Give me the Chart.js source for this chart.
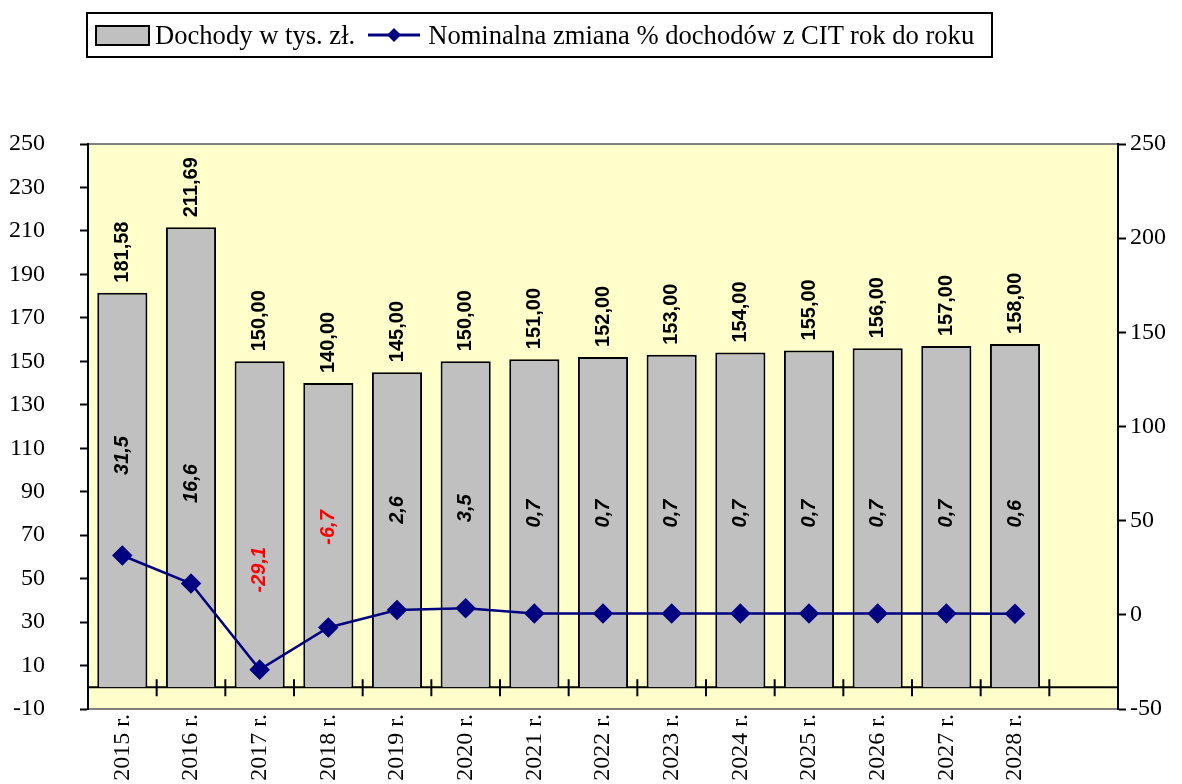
<!DOCTYPE html>
<html>
<head>
<meta charset="utf-8">
<script src="https://cdn.jsdelivr.net/npm/chart.js@4.4.0/dist/chart.umd.min.js"></script>
<style>
  html, body { margin:0; padding:0; background:#fff; }
  #wrap { position:relative; width:1182px; height:784px; }
  #legenda { position:absolute; left:86px; top:12px; width:907px; height:46px; border:2px solid #000; box-sizing:border-box;
    font-family:"Liberation Serif", serif; font-size:26.6px; color:#000; display:flex; align-items:center; white-space:nowrap; }
  .sw { display:inline-block; width:51px; height:17px; background:#c0c0c0; border:2px solid #000; margin-left:7px; margin-right:5px; }
  .ln { display:inline-block; width:52px; height:20px; margin-left:13px; margin-right:8px; }
</style>
</head>
<body>
<div id="wrap">
  <canvas id="wykres" width="1182" height="784"></canvas>
  <div id="legenda">
    <span class="sw"></span><span>Dochody w tys. zł.</span>
    <svg class="ln" viewBox="0 0 52 20"><line x1="0" y1="10" x2="52" y2="10" stroke="#000080" stroke-width="3"/><polygon points="26,3 33,10 26,17 19,10" fill="#000080"/></svg>
    <span>Nominalna zmiana % dochodów z CIT rok do roku</span>
  </div>
</div>
<script>
// dane z wykresu
const lata = ['2015 r.', '2016 r.', '2017 r.', '2018 r.', '2019 r.', '2020 r.', '2021 r.', '2022 r.', '2023 r.', '2024 r.', '2025 r.', '2026 r.', '2027 r.', '2028 r.', ''];
const dochody = [181.58, 211.69, 150, 140, 145, 150, 151, 152, 153, 154, 155, 156, 157, 158, null];
const zmiana = [31.5, 16.6, -29.1, -6.7, 2.6, 3.5, 0.7, 0.7, 0.7, 0.7, 0.7, 0.7, 0.7, 0.6, null];
const lewaOs = { min: -10, max: 250, krok: 20 };
const prawaOs = { min: -50, max: 250, krok: 50 };

const SERIF = '"Liberation Serif", "Times New Roman", serif';
const SANS = '"Liberation Sans", Arial, sans-serif';

const fmt = (v, d) => v.toFixed(d).replace('.', ',');

const tlo = {
    id: 'tlo',
    beforeDraw(chart) {
        const { ctx, chartArea: a } = chart;
        ctx.save();
        ctx.fillStyle = '#ffffcc';
        ctx.fillRect(a.left, a.top, a.right - a.left, a.bottom - a.top);
        ctx.strokeStyle = '#808080';
        ctx.lineWidth = 2;
        ctx.beginPath();
        ctx.moveTo(a.left, a.top); ctx.lineTo(a.right, a.top);
        ctx.moveTo(a.left, a.bottom); ctx.lineTo(a.right, a.bottom);
        ctx.stroke();
        ctx.restore();
    },
    beforeDatasetsDraw(chart) {
        // linia zera z kreskami miedzy kategoriami
        const { ctx, chartArea: a, scales } = chart;
        const y0 = scales.y.getPixelForValue(0);
        const x = scales.x;
        ctx.save();
        ctx.strokeStyle = '#000';
        ctx.lineWidth = 2;
        ctx.beginPath();
        ctx.moveTo(a.left, y0); ctx.lineTo(a.right, y0);
        for (let i = 1; i < lata.length; i++) {
            const xb = (x.getPixelForValue(i - 1) + x.getPixelForValue(i)) / 2;
            ctx.moveTo(xb, y0 - 8); ctx.lineTo(xb, y0 + 9);
        }
        ctx.stroke();
        ctx.restore();
    },
    afterDatasetsDraw(chart) {
        const { ctx } = chart;
        const slupki = chart.getDatasetMeta(0).data;
        const punkty = chart.getDatasetMeta(1).data;
        ctx.save();
        ctx.textBaseline = 'middle';
        slupki.forEach((el, i) => {
            if (dochody[i] == null) return;
            ctx.save();
            ctx.translate(el.x, el.y - 10);
            ctx.rotate(-Math.PI / 2);
            ctx.textAlign = 'left';
            ctx.fillStyle = '#000';
            ctx.font = 'bold 20px ' + SANS;
            ctx.fillText(fmt(dochody[i], 2), 0, 0);
            ctx.restore();
        });
        punkty.forEach((el, i) => {
            if (zmiana[i] == null) return;
            ctx.save();
            ctx.translate(el.x, el.y - 100);
            ctx.rotate(-Math.PI / 2);
            ctx.textAlign = 'center';
            ctx.fillStyle = zmiana[i] < 0 ? '#ff0000' : '#000';
            ctx.font = 'italic bold 20px ' + SANS;
            ctx.fillText(fmt(zmiana[i], 1), 0, 0);
            ctx.restore();
        });
        ctx.restore();
    }
};

new Chart(document.getElementById('wykres'), {
    type: 'bar',
    data: {
        labels: lata,
        datasets: [
            {
                type: 'bar', label: 'Dochody w tys. zł.', data: dochody, yAxisID: 'y',
                backgroundColor: '#c0c0c0', borderColor: '#000', borderWidth: 2,
                barPercentage: 0.73, categoryPercentage: 1, order: 2
            },
            {
                type: 'line', label: 'Nominalna zmiana % dochodów z CIT rok do roku', data: zmiana, yAxisID: 'y2',
                borderColor: '#000080', borderWidth: 2.5, pointStyle: 'rectRot', pointRadius: 8.5,
                pointBackgroundColor: '#000080', pointBorderColor: '#000080', tension: 0, order: 1
            }
        ]
    },
    options: {
        responsive: false,
        animation: false,
        layout: { padding: { top: 144, left: 0, right: 0, bottom: 0 } },
        plugins: { legend: { display: false }, tooltip: { enabled: false } },
        scales: {
            x: {
                grid: { display: false },
                border: { display: false },
                ticks: { minRotation: 90, maxRotation: 90, padding: -3, color: '#000', font: { family: SERIF, size: 24 } },
                afterFit(s) { s.height = 75; }
            },
            y: {
                position: 'left', min: lewaOs.min, max: lewaOs.max,
                ticks: { stepSize: lewaOs.krok, color: '#000', padding: 35, font: { family: SERIF, size: 24 } },
                grid: { drawOnChartArea: false, tickLength: 8, tickWidth: 2, color: '#000' },
                border: { color: '#000', width: 2 },
                afterFit(s) { s.width = 88; }
            },
            y2: {
                position: 'right', min: prawaOs.min, max: prawaOs.max,
                ticks: { stepSize: prawaOs.krok, color: '#000', padding: 4, font: { family: SERIF, size: 24 } },
                grid: { drawOnChartArea: false, tickLength: 8, tickWidth: 2, color: '#000' },
                border: { color: '#000', width: 2 },
                afterFit(s) { s.width = 64; }
            }
        }
    },
    plugins: [tlo]
});
</script>
</body>
</html>
